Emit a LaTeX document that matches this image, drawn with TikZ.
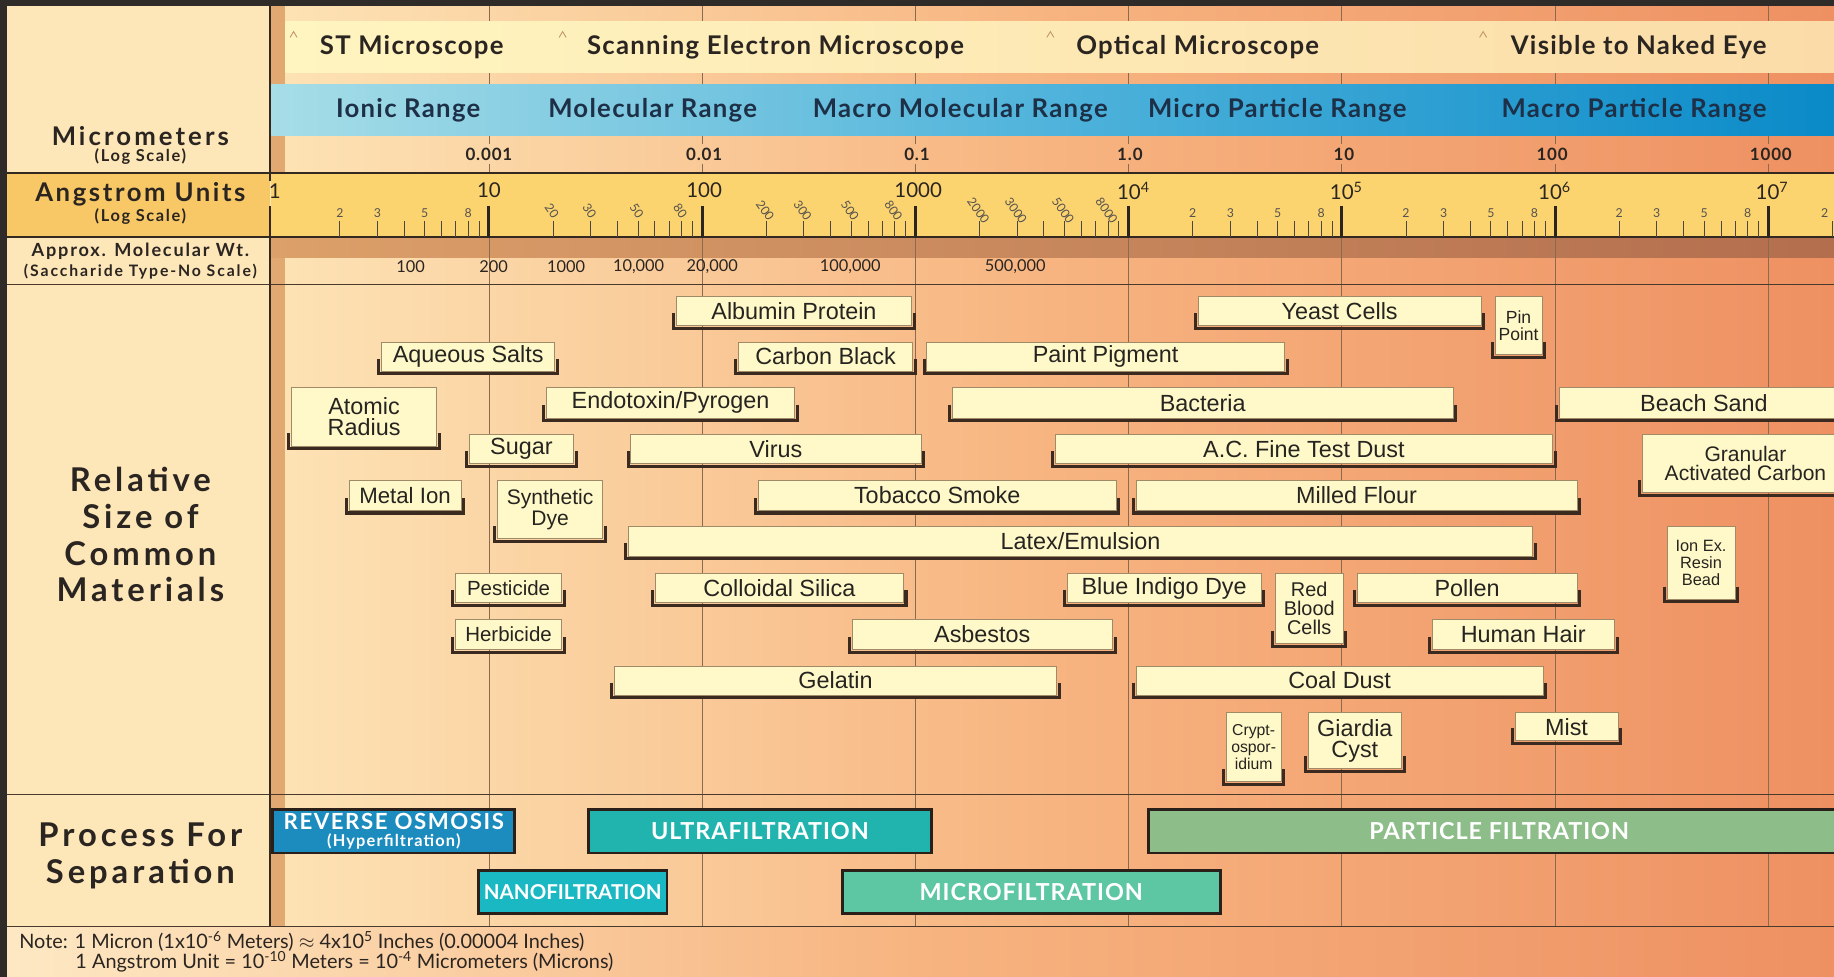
\documentclass[tikz,border=0pt]{standalone}
\usepackage{fontspec}
\setmainfont{Lato}
\newfontfamily\arialf{Liberation Sans}
\usetikzlibrary{calc}
\definecolor{darkframe}{HTML}{2F2B29}
\definecolor{leftbg}{HTML}{FDE6B8}
\definecolor{angL}{HTML}{F8C866}
\definecolor{angR}{HTML}{FCD46F}
\definecolor{stripe}{HTML}{E2A872}
\definecolor{bgL}{HTML}{FDE3B5}
\definecolor{bgM}{HTML}{F7B480}
\definecolor{bgR}{HTML}{EE9062}
\definecolor{brownL}{HTML}{DCA06A}
\definecolor{brownR}{HTML}{B36E4E}
\definecolor{ybL}{HTML}{FFF5C0}
\definecolor{ybR}{HTML}{FBDCA8}
\definecolor{blL}{HTML}{A6DDE7}
\definecolor{blM}{HTML}{4FB3DB}
\definecolor{blR}{HTML}{0A8AC8}
\definecolor{boxfill}{HTML}{FFF9C9}
\definecolor{boxline}{HTML}{A08A68}
\definecolor{brkcol}{HTML}{3A2A1F}
\definecolor{hl}{HTML}{4A3A2E}
\definecolor{vlinecol}{HTML}{8A6A50}
\definecolor{textdark}{HTML}{2B2521}
\definecolor{bluetext}{HTML}{1D3047}
\definecolor{roC}{HTML}{1C8BBD}
\definecolor{ufC}{HTML}{21B4AE}
\definecolor{nfC}{HTML}{1AB8C3}
\definecolor{mfC}{HTML}{5DC6A2}
\definecolor{pfC}{HTML}{8DBE89}
\definecolor{procline}{HTML}{2B2019}
\definecolor{caretcol}{HTML}{C49A6C}
\definecolor{boxtext}{HTML}{262420}
\newcommand\fs[2]{\arialf\fontsize{#1}{#2}\selectfont}
\newcommand\lf[2]{\fontsize{#1}{#2}\selectfont}
\newcommand\ls[1]{\addfontfeature{LetterSpace=#1}}
\tikzset{
  matbox/.style={draw=boxline, line width=0.6pt, fill=boxfill, inner sep=0pt, align=center, text=boxtext},
  brk/.style={draw=brkcol, line width=2.6pt, line join=miter},
  procbox/.style={draw=procline, line width=2.4pt, inner sep=0pt, text=white, align=center},
  vline/.style={draw=vlinecol, line width=0.7pt},
  hline/.style={draw=hl, line width=0.8pt},
  hthick/.style={draw=hl!70!black, line width=1.8pt},
  toplab/.style={text=textdark, font=\bfseries\lf{22}{24}\ls{5}},
  bluelab/.style={text=bluetext, font=\bfseries\lf{22}{24}\ls{5}},
  umlab/.style={text=textdark, font=\bfseries\lf{14.5}{16}\ls{5}},
  mwlab/.style={text=textdark, font=\lf{14}{15}},
  declab/.style={text=textdark, font=\lf{17.5}{19}},
  minlab/.style={text=textdark!80, font=\lf{10.5}{11}},
  minortick/.style={draw=textdark!85, line width=0.7pt},
  majortick/.style={draw=textdark, line width=2.6pt},
  sidelab/.style={text=textdark, align=center},
  caret/.style={draw=caretcol, line width=0.8pt}
}
% material box: [font] name x1 y1 x2 y2 text
\newcommand\matb[7][\fs{20}{18}]{%
  \node[matbox, font={#1}, minimum width={(#5-#3)*1pt}, minimum height={(#6-#4)*1pt}, anchor=north west] (#2) at (#3,#4) {#7};
  \draw[brk] ([shift={(-2pt,11pt)}]#2.south west) -- ([shift={(-2pt,-2pt)}]#2.south west) -- ([shift={(2pt,-2pt)}]#2.south east) -- ([shift={(2pt,11pt)}]#2.south east);
}
% process box: [font] name x1 y1 x2 y2 text colour
\newcommand\procb[8][\bfseries\lf{20}{20}\ls{4}]{%
  \node[procbox, font={#1}, fill=#8, minimum width={(#5-#3)*1pt}, minimum height={(#6-#4)*1pt}, anchor=north west] (#2) at (#3,#4) {#7};
}
\begin{document}
\begin{tikzpicture}[x=1pt,y=-1pt]
\useasboundingbox (0,0) rectangle (1568,835);
\clip (0,0) rectangle (1568,835);
% backgrounds
\fill[leftbg] (0,0) rectangle (232,792);
\shade[left color=bgL, right color=bgR, middle color=bgM] (232,0) rectangle (1568,792);
\shade[left color=bgL!80!white, right color=bgR, middle color=bgM] (0,792) rectangle (1568,835);
\fill[angL] (6,149) rectangle (231,203);
\fill[stripe] (232,5) rectangle (244,792);
\shade[left color=brownL, right color=brownR] (232,204) rectangle (1568,220);
% decade lines
\foreach \k in {0,...,6}{
  \pgfmathsetmacro\xx{418+182.3*\k}
  \draw[vline] (\xx,5) -- (\xx,123);
  \draw[vline] (\xx,140) -- (\xx,148);
  \draw[vline] (\xx,203) -- (\xx,792);
}
% bands
\shade[left color=ybL, right color=ybR] (244,18) rectangle (1568,62);
\shade[left color=blL, right color=blR, middle color=blM] (232,72) rectangle (1568,116);
\fill[angR] (232,149) rectangle (1568,203);
% frame
\fill[darkframe] (0,0) rectangle (1568,5);
\fill[darkframe] (0,0) rectangle (6,835);
% horizontal rules
\draw[hthick] (6,148) -- (1568,148);
\draw[hthick] (6,203) -- (1568,203);
\draw[hline] (6,243) -- (1568,243);
\draw[hline] (6,679) -- (1568,679);
\draw[hline] (6,792) -- (1568,792);
\draw[draw=hl!70!black, line width=2pt] (231,5) -- (231,155);
\draw[draw=hl!70!black, line width=2pt] (231,176) -- (231,792);
% microscope band
\foreach \cx in {251,481,898,1268}{
  \draw[caret] (\cx-3,32) -- (\cx,27) -- (\cx+3,32);
}
\node[toplab] (st) at (352,40) {ST Microscope};
\node[toplab] (sem) at (663,40) {Scanning Electron Microscope};
\node[toplab] (opt) at (1024,40) {Optical Microscope};
\node[toplab] (eye) at (1401,40) {Visible to Naked Eye};
% range band
\node[bluelab] (ionic) at (349,94) {Ionic Range};
\node[bluelab] (molr) at (558,94) {Molecular Range};
\node[bluelab] (macmol) at (821,94) {Macro Molecular Range};
\node[bluelab] (micp) at (1092,94) {Micro Particle Range};
\node[bluelab] (macp) at (1397,94) {Macro Particle Range};
% micrometer numbers
\node[umlab] (um0) at (418,132) {0.001};
\node[umlab] (um1) at (602,132) {0.01};
\node[umlab] (um2) at (784,132) {0.1};
\node[umlab] (um3) at (966,132) {1.0};
\node[umlab] (um4) at (1149,132) {10};
\node[umlab] (um5) at (1327,132) {100};
\node[umlab] (um6) at (1514,132) {1000};
% angstrom ticks
\foreach \k in {-1,...,6}{
  \foreach \m in {2,...,9}{
    \pgfmathsetmacro\xx{418+182.3*(\k+log10(\m))}
    \draw[minortick] (\xx,189) -- (\xx,203);
  }
}
\foreach \k in {0,...,6}{
  \pgfmathsetmacro\xx{418+182.3*\k}
  \draw[majortick] (\xx,176) -- (\xx,203);
}
\foreach \k in {-1,3,4,5}{
  \foreach \m in {2,3,5,8}{
    \pgfmathsetmacro\xx{418+182.3*(\k+log10(\m))}
    \node[minlab] at (\xx,182) {\m};
  }
}
\node[minlab] (last2) at (1560,182) {2};
\foreach \k/\s in {0/0,1/00,2/000}{
  \foreach \m in {2,3,5,8}{
    \pgfmathsetmacro\xx{418+182.3*(\k+log10(\m))}
    \node[minlab, rotate=-55, inner sep=0pt] at (\xx-1,180) {\m\s};
  }
}
\node[declab] (a0) at (235,163) {1};
\node[declab] (a1) at (418,163) {10};
\node[declab] (a2) at (602,163) {100};
\node[declab] (a3) at (785,163) {1000};
\node[declab] (a4) at (969,163) {10\textsuperscript{4}};
\node[declab] (a5) at (1151,163) {10\textsuperscript{5}};
\node[declab] (a6) at (1329,163) {10\textsuperscript{6}};
\node[declab] (a7) at (1515,163) {10\textsuperscript{7}};
% molecular weight
\node[mwlab] (mw1) at (351,228) {100};
\node[mwlab] (mw2) at (422,228) {200};
\node[mwlab] (mw3) at (484,228) {1000};
\node[mwlab] (mw4) at (546,228) {10,000};
\node[mwlab] (mw5) at (609,228) {20,000};
\node[mwlab] (mw6) at (727,228) {100,000};
\node[mwlab] (mw7) at (868,228) {500,000};
% left labels
\node[sidelab, font=\bfseries\lf{22}{24}\ls{12}] (lmic) at (120,116) {Micrometers};
\node[sidelab, font=\bfseries\lf{14}{15}\ls{10}] (lmic2) at (120,134) {(Log Scale)};
\node[sidelab, font=\bfseries\lf{22}{24}\ls{10}] (lang) at (120,166) {Angstrom Units};
\node[sidelab, font=\bfseries\lf{14}{15}\ls{10}] (lang2) at (120,185) {(Log Scale)};
\node[sidelab, font=\bfseries\lf{15.5}{17}\ls{10}] (lmw) at (120,215) {Approx. Molecular Wt.};
\node[sidelab, font=\bfseries\lf{13.5}{15}\ls{12}] (lmw2) at (120,232) {(Saccharide Type-No Scale)};
\node[sidelab, font=\bfseries\lf{28}{31.5}\ls{12}] (lrel) at (120,457) {Relative\\Size of\\Common\\Materials};
\node[sidelab, font=\bfseries\lf{28}{31.5}\ls{12}] (lproc) at (120,732) {Process For\\Separation};
% materials
\matb{albumin}{578}{253}{779}{278}{Albumin Protein}
\matb{yeast}{1024}{253}{1266}{278}{Yeast Cells}
\matb[\fs{15}{14.5}]{pin}{1278}{253}{1318}{303}{Pin\\Point}
\matb{aqueous}{326}{292}{474}{317}{Aqueous Salts}
\matb{carbon}{631}{292}{780}{317}{Carbon Black}
\matb{paint}{792}{292}{1098}{317}{Paint Pigment}
\matb{atomic}{249}{331}{373}{381}{Atomic\\Radius}
\matb{endotoxin}{467}{331}{679}{357}{Endotoxin/Pyrogen}
\matb{bacteria}{814}{331}{1242}{357}{Bacteria}
\matb{beach}{1333}{331}{1580}{357}{Beach Sand}
\matb{sugar}{401}{371}{490}{396}{Sugar}
\matb{virus}{539}{371}{787}{396}{Virus}
\matb{acdust}{902}{371}{1327}{396}{A.C. Fine Test Dust}
\matb[\fs{18}{16}]{granular}{1404}{371}{1580}{421}{Granular\\Activated Carbon}
\matb[\fs{19}{18}]{metal}{298}{410}{394}{436}{Metal Ion}
\matb[\fs{18}{18}]{synth}{425}{410}{515}{460}{Synthetic\\Dye}
\matb{tobacco}{648}{410}{954}{436}{Tobacco Smoke}
\matb{flour}{971}{410}{1348}{436}{Milled Flour}
\matb{latex}{537}{450}{1310}{475}{Latex/Emulsion}
\matb[\fs{14}{14.5}]{ionex}{1425}{450}{1483}{512}{Ion Ex.\\Resin\\Bead}
\matb[\fs{17.5}{18}]{pesticide}{389}{490}{480}{515}{Pesticide}
\matb{colloidal}{560}{490}{772}{515}{Colloidal Silica}
\matb{indigo}{912}{490}{1078}{515}{Blue Indigo Dye}
\matb[\fs{17}{16}]{rbc}{1090}{490}{1148}{550}{Red\\Blood\\Cells}
\matb{pollen}{1160}{490}{1348}{515}{Pollen}
\matb[\fs{17.5}{18}]{herbicide}{389}{529}{480}{555}{Herbicide}
\matb{asbestos}{728}{529}{951}{555}{Asbestos}
\matb{hair}{1224}{529}{1380}{555}{Human Hair}
\matb{gelatin}{525}{569}{903}{594}{Gelatin}
\matb{coal}{971}{569}{1319}{594}{Coal Dust}
\matb[\fs{13.5}{14.5}]{crypto}{1048}{609}{1095}{668}{Crypt-\\ospor-\\idium}
\matb{giardia}{1118}{609}{1198}{657}{Giardia\\Cyst}
\matb{mist}{1295}{609}{1383}{633}{Mist}
% process
\procb[\bfseries\lf{19}{15}\ls{7}]{ro}{232}{691}{439}{728}{REVERSE OSMOSIS\\{\lf{14}{14}\ls{7}(Hyperfiltration)}}{roC}
\procb{uf}{502}{691}{795}{728}{ULTRAFILTRATION}{ufC}
\procb{pf}{981}{691}{1580}{728}{PARTICLE FILTRATION}{pfC}
\procb[\bfseries\lf{17.5}{20}]{nf}{408}{743}{569}{780}{NANOFILTRATION}{nfC}
\procb{mf}{719}{743}{1042}{780}{MICROFILTRATION}{mfC}
% note
\node[anchor=west, text=textdark, font=\lf{17}{18}] (note1) at (13,805) {Note: 1 Micron (1x10\textsuperscript{-6} Meters) $\approx$ 4x10\textsuperscript{5} Inches (0.00004 Inches)};
\node[anchor=west, text=textdark, font=\lf{17}{18}] (note2) at (61,822) {1 Angstrom Unit = 10\textsuperscript{-10} Meters = 10\textsuperscript{-4} Micrometers (Microns)};
\end{tikzpicture}
\end{document}
